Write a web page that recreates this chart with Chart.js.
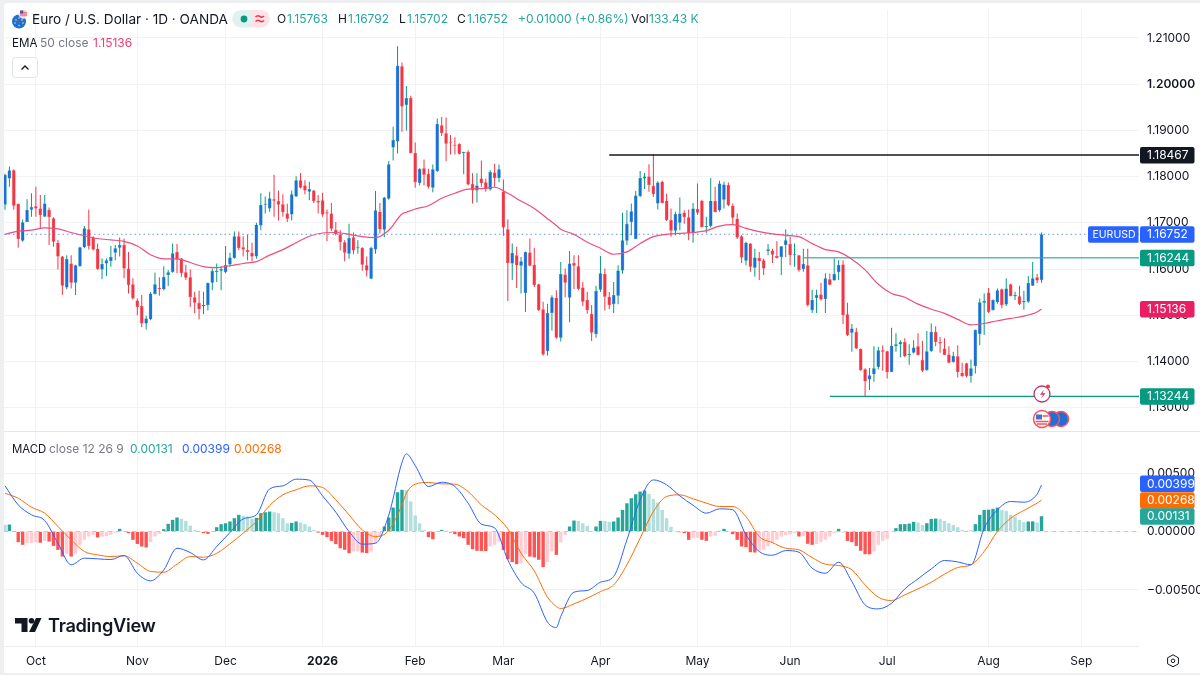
<!DOCTYPE html>
<html>
<head>
<meta charset="utf-8">
<title>EURUSD 1D</title>
<script src="https://cdn.jsdelivr.net/npm/chart.js@4/dist/chart.umd.min.js"></script>
<style>
  html, body { margin: 0; padding: 0; background: #eeeff1; }
  body { width: 1200px; height: 675px; overflow: hidden; position: relative; font-family: Inter, "Noto Sans", sans-serif; color: #131722; }
  #panel { position: absolute; left: 4px; top: 3px; right: 0; bottom: 2px; background: #fff; border-top-left-radius: 4px; }
  canvas { position: absolute; left: 0; }
  #priceChart { top: 0; }
  #macdChart { top: 432px; }
  #sep { position: absolute; left: 4px; right: 0; top: 431px; height: 1px; background: #e4e6ec; }
  #timeLine { position: absolute; left: 4px; width: 1135px; top: 646px; height: 1px; background: #eceef2; }
  .t { position: absolute; white-space: nowrap; line-height: 16px; font-size: 12px; }
  .grey { color: #787b86; }
  .up { color: #26a69a; }
  svg { position: absolute; overflow: visible; }
</style>
</head>
<body>
<div id="panel"></div>
<canvas id="priceChart" width="1200" height="432"></canvas>
<canvas id="macdChart" width="1200" height="243"></canvas>
<div id="sep"></div>
<div id="timeLine"></div>

<svg style="left:0;top:0" width="40" height="40">
  <circle cx="19" cy="21.5" r="7" fill="#1f6fd6"/>
  <circle cx="16" cy="20" r=".8" fill="#ffd84d"/><circle cx="19" cy="18" r=".8" fill="#ffd84d"/><circle cx="22" cy="20" r=".8" fill="#ffd84d"/>
  <circle cx="15" cy="23" r=".8" fill="#ffd84d"/><circle cx="19" cy="25.5" r=".8" fill="#ffd84d"/><circle cx="23" cy="23" r=".8" fill="#ffd84d"/>
  <circle cx="23.3" cy="13.8" r="4.4" fill="#f6c6cc" stroke="#fff"/>
  <path d="M20 12.8h7M20 15h7" stroke="#ef4f5e"/>
  <rect x="20" y="10.5" width="3.2" height="3" fill="#3d5db0"/>
</svg>
<div class="t" style="left:32px;top:11px;font-size:13.6px">Euro / U.S. Dollar · 1D · OANDA</div>
<svg style="left:0;top:0" width="280" height="30">
  <path d="M243 10h-2a8.8 8.8 0 0 0 0 17.6h10V10z" fill="#e0f2ef"/>
  <path d="M251 10h10a8.8 8.8 0 0 1 0 17.6h-10z" fill="#fde3e8"/>
  <circle cx="244" cy="19" r="3.4" fill="#089981"/>
  <path d="M255.5 17c1.5-1.6 3-1.6 4.3-.6s2.800 1 4.200-.4M255.500 21.500c1.500-1.600 3-1.600 4.300-.6s2.800 1 4.200-.4" fill="none" stroke="#f23645" stroke-width="1.500"/>
</svg>
<div class="t" style="left:277px;top:11px">O</div><div class="t up" style="left:287px;top:11px">1.15763</div>
<div class="t" style="left:338px;top:11px">H</div><div class="t up" style="left:348px;top:11px">1.16792</div>
<div class="t" style="left:399px;top:11px">L</div><div class="t up" style="left:407px;top:11px">1.15702</div>
<div class="t" style="left:457px;top:11px">C</div><div class="t up" style="left:467px;top:11px">1.16752</div>
<div class="t up" style="left:518px;top:11px">+0.01000 (+0.86%)</div>
<div class="t" style="left:631px;top:11px">Vol</div><div class="t up" style="left:649px;top:11px">133.43 K</div>

<div class="t" style="left:12px;top:35px;font-size:11.6px">EMA</div>
<div class="t grey" style="left:40px;top:35px">50 close</div>
<div class="t" style="left:93px;top:35px;color:#f23a6e">1.15136</div>
<svg style="left:0;top:0" width="50" height="90">
  <rect x="12.500" y="57.500" width="25" height="20" rx="3" fill="#fff" stroke="#e0e3eb"/>
  <path d="M21.500 69.500l3.500-3.500 3.500 3.500" fill="none" stroke="#131722" stroke-width="1.300"/>
</svg>

<div class="t" style="left:12px;top:441px;font-size:11.4px">MACD</div>
<div class="t grey" style="left:49px;top:441px">close 12 26 9</div>
<div class="t up" style="left:130px;top:441px">0.00131</div>
<div class="t" style="left:182px;top:441px;color:#2962ff">0.00399</div>
<div class="t" style="left:234px;top:441px;color:#ff6d00">0.00268</div>

<svg style="left:0;top:0" width="60" height="675">
  <path d="M15 618h12.500v14h-6v-8.500H15z" fill="#131722"/>
  <circle cx="31.500" cy="620.700" r="2.800" fill="#131722"/>
  <path d="M36 618h5.500l-6.500 14h-6z" fill="#131722"/>
</svg>
<div class="t" style="left:48px;top:613px;font-size:18.2px;line-height:25px;font-weight:600;letter-spacing:-.3px">TradingView</div>

<svg style="left:1030px;top:380px" width="45" height="50">
  <circle cx="12" cy="14" r="8" fill="#fff" stroke="#b5376f" stroke-width="1.300"/>
  <path d="M14 9.500l-4 5.200h3l-2 4 4.500-5.500h-3z" fill="#d9305f"/>
  <circle cx="18" cy="6.500" r="2" fill="#f23645"/>
  <circle cx="31" cy="39" r="7.500" fill="#1f6fd6" stroke="#f7525f" stroke-width="1.500"/>
  <circle cx="22" cy="39" r="7.500" fill="#1f6fd6" stroke="#f7525f" stroke-width="1.500"/>
  <circle cx="12" cy="39" r="8.500" fill="#fff" stroke="#f7525f" stroke-width="1.500"/>
  <rect x="6" y="34.500" width="6" height="5" fill="#4a6fc4"/>
  <path d="M12.500 36h6M5.500 41.500h13M7 44h10" stroke="#f7525f" stroke-width="1.300"/>
</svg>
<svg style="left:0;top:0" width="1200" height="675">
  <path d="M1173 654.800l5.400 3v6l-5.400 3-5.400-3v-6z" fill="none" stroke="#131722"/>
  <circle cx="1173" cy="660.800" r="1.800" fill="none" stroke="#131722"/>
</svg>

<script>
const barsOpen = [
  1.1739,1.1796,1.1814,1.1741,1.1661,1.1702,1.1728,1.1736,1.1731,1.1713,
  1.1728,1.1710,1.1657,1.1627,1.1560,1.1612,1.1570,1.1606,1.1647,1.1686,
  1.1668,1.1644,1.1599,1.1612,1.1617,1.1635,1.1646,1.1652,1.1601,1.1567,
  1.1532,1.1520,1.1482,1.1491,1.1546,1.1559,1.1556,1.1587,1.1593,1.1637,
  1.1623,1.1593,1.1582,1.1539,1.1527,1.1520,1.1522,1.1570,1.1593,1.1596,
  1.1593,1.1610,1.1624,1.1671,1.1647,1.1641,1.1635,1.1627,1.1694,1.1739,
  1.1731,1.1751,1.1747,1.1740,1.1720,1.1718,1.1757,1.1792,1.1781,1.1767,
  1.1770,1.1747,1.1749,1.1723,1.1720,1.1685,1.1675,1.1658,1.1633,1.1669,
  1.1645,1.1646,1.1608,1.1579,1.1642,1.1724,1.1685,1.1752,1.1863,1.1876,
  1.2039,1.1955,1.1970,1.1851,1.1786,1.1818,1.1806,1.1776,1.1812,1.1911,
  1.1894,1.1873,1.1869,1.1871,1.1851,1.1853,1.1784,1.1770,1.1796,1.1788,
  1.1772,1.1809,1.1797,1.1768,1.1686,1.1612,1.1630,1.1607,1.1548,1.1636,
  1.1609,1.1567,1.1513,1.1422,1.1505,1.1538,1.1451,1.1588,1.1538,1.1613,
  1.1606,1.1560,1.1533,1.1503,1.1459,1.1555,1.1589,1.1540,1.1524,1.1542,
  1.1597,1.1661,1.1702,1.1665,1.1758,1.1796,1.1800,1.1780,1.1742,1.1789,
  1.1748,1.1706,1.1683,1.1700,1.1722,1.1712,1.1678,1.1730,1.1748,1.1691,
  1.1693,1.1747,1.1727,1.1750,1.1782,1.1737,1.1709,1.1671,1.1618,1.1655,
  1.1603,1.1624,1.1619,1.1639,1.1640,1.1628,1.1626,1.1652,1.1654,1.1630,
  1.1630,1.1600,1.1608,1.1511,1.1537,1.1545,1.1535,1.1578,1.1575,1.1593,
  1.1610,1.1502,1.1462,1.1464,1.1427,1.1383,1.1361,1.1372,1.1388,1.1424,
  1.1422,1.1377,1.1433,1.1437,1.1442,1.1414,1.1419,1.1433,1.1403,1.1381,
  1.1422,1.1464,1.1442,1.1428,1.1415,1.1399,1.1411,1.1375,1.1396,1.1368,
  1.1390,1.1459,1.1527,1.1549,1.1511,1.1528,1.1556,1.1523,1.1567,1.1541,
  1.1541,1.1528,1.1529,1.1564,1.1582,1.15763
];
const barsHigh = [
  1.1806,1.1822,1.1816,1.1742,1.1707,1.1751,1.1764,1.1778,1.1760,1.1760,
  1.1733,1.1712,1.1663,1.1628,1.1630,1.1630,1.1609,1.1648,1.1693,1.1728,
  1.1671,1.1655,1.1623,1.1623,1.1650,1.1652,1.1668,1.1666,1.1637,1.1580,
  1.1536,1.1544,1.1499,1.1551,1.1592,1.1582,1.1606,1.1598,1.1655,1.1654,
  1.1624,1.1609,1.1599,1.1551,1.1553,1.1551,1.1570,1.1601,1.1612,1.1606,
  1.1650,1.1635,1.1681,1.1681,1.1671,1.1674,1.1657,1.1700,1.1764,1.1757,
  1.1767,1.1804,1.1770,1.1762,1.1741,1.1770,1.1801,1.1808,1.1792,1.1789,
  1.1771,1.1760,1.1765,1.1729,1.1743,1.1702,1.1684,1.1662,1.1698,1.1679,
  1.1662,1.1647,1.1627,1.1648,1.1769,1.1743,1.1756,1.1834,1.1908,1.2082,
  1.2047,1.1996,1.1975,1.1874,1.1818,1.1837,1.1817,1.1826,1.1926,1.1929,
  1.1928,1.1890,1.1885,1.1872,1.1854,1.1857,1.1807,1.1807,1.1835,1.1796,
  1.1814,1.1828,1.1826,1.1794,1.1707,1.1655,1.1648,1.1626,1.1638,1.1666,
  1.1646,1.1568,1.1529,1.1525,1.1543,1.1554,1.1615,1.1601,1.1639,1.1630,
  1.1630,1.1572,1.1551,1.1522,1.1564,1.1628,1.1601,1.1550,1.1572,1.1608,
  1.1722,1.1727,1.1742,1.1769,1.1812,1.1808,1.1827,1.1849,1.1790,1.1791,
  1.1763,1.1731,1.1724,1.1755,1.1727,1.1729,1.1743,1.1785,1.1750,1.1713,
  1.1797,1.1778,1.1791,1.1789,1.1787,1.1742,1.1720,1.1673,1.1659,1.1656,
  1.1644,1.1637,1.1623,1.1654,1.1644,1.1660,1.1650,1.1686,1.1670,1.1655,
  1.1631,1.1644,1.1644,1.1555,1.1555,1.1570,1.1591,1.1590,1.1623,1.1619,
  1.1619,1.1527,1.1481,1.1473,1.1428,1.1385,1.1386,1.1433,1.1432,1.1435,
  1.1423,1.1473,1.1461,1.1446,1.1450,1.1437,1.1446,1.1461,1.1445,1.1466,
  1.1482,1.1476,1.1453,1.1450,1.1433,1.1421,1.1435,1.1397,1.1397,1.1404,
  1.1469,1.1536,1.1547,1.1559,1.1534,1.1558,1.1558,1.1580,1.1568,1.1551,
  1.1564,1.1553,1.1585,1.1615,1.1589,1.16792
];
const barsLow = [
  1.1728,1.1778,1.1728,1.1646,1.1659,1.1702,1.1713,1.1713,1.1688,1.1713,
  1.1652,1.1648,1.1599,1.1544,1.1556,1.1558,1.1544,1.1605,1.1645,1.1642,
  1.1640,1.1598,1.1578,1.1585,1.1605,1.1619,1.1627,1.1580,1.1547,1.1534,
  1.1500,1.1474,1.1469,1.1489,1.1545,1.1542,1.1554,1.1563,1.1592,1.1591,
  1.1583,1.1576,1.1518,1.1504,1.1491,1.1502,1.1511,1.1554,1.1572,1.1554,
  1.1591,1.1605,1.1622,1.1641,1.1627,1.1619,1.1616,1.1622,1.1684,1.1720,
  1.1724,1.1713,1.1705,1.1713,1.1702,1.1705,1.1756,1.1774,1.1762,1.1749,
  1.1743,1.1720,1.1713,1.1660,1.1682,1.1673,1.1640,1.1617,1.1622,1.1632,
  1.1633,1.1596,1.1584,1.1578,1.1633,1.1677,1.1669,1.1750,1.1835,1.1850,
  1.1897,1.1900,1.1850,1.1776,1.1781,1.1781,1.1774,1.1766,1.1810,1.1888,
  1.1833,1.1848,1.1848,1.1848,1.1805,1.1781,1.1742,1.1744,1.1778,1.1767,
  1.1770,1.1778,1.1788,1.1672,1.1531,1.1576,1.1559,1.1547,1.1507,1.1606,
  1.1561,1.1509,1.1412,1.1413,1.1467,1.1449,1.1443,1.1539,1.1485,1.1557,
  1.1554,1.1520,1.1503,1.1444,1.1451,1.1550,1.1510,1.1513,1.1505,1.1524,
  1.1590,1.1652,1.1673,1.1665,1.1756,1.1773,1.1767,1.1756,1.1729,1.1742,
  1.1704,1.1670,1.1673,1.1684,1.1698,1.1662,1.1657,1.1717,1.1690,1.1678,
  1.1690,1.1723,1.1724,1.1731,1.1736,1.1695,1.1665,1.1613,1.1608,1.1594,
  1.1583,1.1576,1.1587,1.1630,1.1613,1.1623,1.1587,1.1626,1.1608,1.1605,
  1.1594,1.1594,1.1519,1.1505,1.1505,1.1532,1.1505,1.1565,1.1575,1.1576,
  1.1481,1.1455,1.1421,1.1427,1.1380,1.1325,1.1338,1.1356,1.1383,1.1380,
  1.1363,1.1377,1.1421,1.1409,1.1409,1.1393,1.1417,1.1413,1.1377,1.1380,
  1.1421,1.1433,1.1419,1.1414,1.1396,1.1397,1.1365,1.1367,1.1365,1.1354,
  1.1374,1.1435,1.1457,1.1505,1.1510,1.1525,1.1515,1.1520,1.1541,1.1533,
  1.1522,1.1512,1.1527,1.1563,1.1569,1.15702
];
const barsClose = [
  1.1804,1.1814,1.1737,1.1665,1.1701,1.1728,1.1734,1.1731,1.1717,1.1742,
  1.1712,1.1659,1.1627,1.1564,1.1622,1.1570,1.1608,1.1647,1.1688,1.1650,
  1.1642,1.1600,1.1611,1.1619,1.1626,1.1645,1.1652,1.1601,1.1565,1.1536,
  1.1518,1.1482,1.1493,1.1547,1.1567,1.1557,1.1583,1.1593,1.1634,1.1621,
  1.1591,1.1581,1.1539,1.1527,1.1513,1.1522,1.1570,1.1596,1.1596,1.1600,
  1.1609,1.1625,1.1671,1.1645,1.1642,1.1637,1.1627,1.1696,1.1739,1.1741,
  1.1753,1.1748,1.1739,1.1723,1.1709,1.1762,1.1792,1.1776,1.1770,1.1773,
  1.1747,1.1744,1.1718,1.1720,1.1687,1.1675,1.1658,1.1635,1.1667,1.1640,
  1.1647,1.1609,1.1597,1.1646,1.1727,1.1686,1.1755,1.1827,1.1879,1.2040,
  1.1952,1.1970,1.1851,1.1788,1.1817,1.1804,1.1778,1.1816,1.1914,1.1894,
  1.1871,1.1872,1.1867,1.1849,1.1853,1.1783,1.1770,1.1781,1.1786,1.1773,
  1.1810,1.1797,1.1816,1.1690,1.1613,1.1635,1.1608,1.1617,1.1637,1.1607,
  1.1565,1.1511,1.1415,1.1505,1.1539,1.1451,1.1589,1.1570,1.1612,1.1607,
  1.1557,1.1529,1.1511,1.1462,1.1553,1.1591,1.1540,1.1522,1.1544,1.1597,
  1.1662,1.1698,1.1725,1.1759,1.1797,1.1800,1.1782,1.1762,1.1787,1.1743,
  1.1706,1.1683,1.1719,1.1720,1.1712,1.1677,1.1731,1.1722,1.1691,1.1693,
  1.1748,1.1723,1.1785,1.1783,1.1738,1.1711,1.1668,1.1625,1.1657,1.1605,
  1.1625,1.1617,1.1601,1.1643,1.1631,1.1624,1.1649,1.1662,1.1630,1.1632,
  1.1598,1.1611,1.1522,1.1533,1.1544,1.1534,1.1580,1.1566,1.1589,1.1609,
  1.1500,1.1457,1.1471,1.1428,1.1381,1.1357,1.1370,1.1385,1.1424,1.1421,
  1.1377,1.1434,1.1437,1.1442,1.1411,1.1416,1.1430,1.1414,1.1380,1.1422,
  1.1464,1.1442,1.1439,1.1414,1.1397,1.1412,1.1377,1.1368,1.1368,1.1385,
  1.1468,1.1528,1.1531,1.1507,1.1533,1.1554,1.1522,1.1558,1.1541,1.1544,
  1.1524,1.1531,1.1570,1.1580,1.1575,1.16752
];

const lineBars = [
  0,3,6,9,12,15,18,21,24,27,
  30,33,36,39,42,45,48,51,54,57,
  60,63,66,69,72,75,78,81,84,87,
  90,91,93,96,99,102,105,108,111,114,117,
  120,123,125,126,129,132,135,138,141,144,147,
  150,153,156,159,162,165,168,171,174,177,
  180,183,186,189,192,195,198,201,204,207,
  210,213,216,219,222,225,228,231,234,235
];
const ema50 = [
  1.1675,1.1682,1.1684,1.1689,1.1687,1.1679,1.1672,1.1666,1.1663,1.1660,
  1.1650,1.1631,1.1622,1.1622,1.1614,1.1605,1.1603,1.1607,1.1612,1.1616,
  1.1630,1.1642,1.1657,1.1671,1.1678,1.1679,1.1675,1.1670,1.1668,1.1684,
  1.1719,1.1723,1.1730,1.1737,1.1753,1.1764,1.1773,1.1774,1.1777,1.1764,1.1747,
  1.1731,1.1709,1.1694,1.1686,1.1675,1.1658,1.1645,1.1632,1.1637,1.1655,1.1670,
  1.1675,1.1677,1.1679,1.1683,1.1693,1.1696,1.1688,1.1681,1.1676,1.1673,
  1.1670,1.1655,1.1642,1.1637,1.1621,1.1598,1.1567,1.1547,1.1539,1.1524,
  1.1513,1.1504,1.1491,1.1479,1.1482,1.1488,1.1493,1.1498,1.1507,1.15136
];
const macdLine = [
  .00391,.00228,.00143,.00094,-.00100,-.00285,-.00228,-.00234,-.00240,-.00205,
  -.00357,-.00422,-.00328,-.00143,-.00180,-.00243,-.00128,-.00009,.00108,.00143,
  .00365,.00391,.00448,.00440,.00305,.00166,0,-.00108,-.00100,.00140,
  .00591,.00665,.00565,.00385,.00422,.00385,.00243,.00063,.00031,-.00243,-.00437,
  -.00528,-.00776,-.00822,-.00728,-.00519,-.00505,-.00434,-.00385,-.00071,.00271,.00442,
  .00400,.00305,.00225,.00157,.00194,.00186,-.00029,-.00171,-.00203,-.00163,
  -.00177,-.00314,-.00357,-.00263,-.00428,-.00628,-.00662,-.00614,-.00491,-.00405,
  -.00320,-.00248,-.00260,-.00285,.00029,.00186,.00257,.00251,.00320,.00399
];
const signalLine = [
  .00328,.00285,.00208,.00157,.00043,-.00071,-.00171,-.00200,-.00214,-.00208,
  -.00271,-.00342,-.00348,-.00280,-.00214,-.00220,-.00186,-.00106,-.00014,.00086,
  .00223,.00314,.00357,.00391,.00377,.00271,.00143,.00014,-.00043,.00009,
  .00228,.00328,.00405,.00420,.00408,.00405,.00342,.00228,.00143,.00023,-.00186,
  -.00337,-.00562,-.00642,-.00659,-.00619,-.00571,-.00514,-.00457,-.00285,-.00057,.00171,
  .00300,.00314,.00280,.00243,.00214,.00214,.00128,-.00043,-.00095,-.00143,
  -.00157,-.00223,-.00280,-.00291,-.00328,-.00457,-.00562,-.00591,-.00542,-.00491,
  -.00434,-.00365,-.00308,-.00285,-.00171,0,.00114,.00180,.00243,.00268
];
const histogram = [
  .00057,.00060,-.00003,-.00091,-.00114,-.00100,-.00097,-.00094,-.00096,-.00080,
  -.00086,-.00123,-.00157,-.00214,-.00191,-.00214,-.00191,-.00114,-.00071,-.00043,
  -.00029,-.00051,-.00043,-.00040,-.00029,-.00011,.00023,.00003,-.00014,-.00071,
  -.00106,-.00128,-.00137,-.00091,-.00043,-.00020,.00020,.00066,.00100,.00120,
  .00108,.00091,.00051,.00014,.00003,-.00014,-.00020,.00005,.00037,.00063,
  .00071,.00086,.00114,.00143,.00134,.00128,.00110,.00117,.00157,.00165,
  .00171,.00165,.00157,.00114,.00071,.00074,.00086,.00077,.00063,.00043,
  .00014,-.00009,-.00029,-.00048,-.00080,-.00108,-.00143,-.00157,-.00185,-.00171,
  -.00170,-.00180,-.00185,-.00171,-.00100,-.00043,.00043,.00120,.00205,.00336,
  .00357,.00354,.00257,.00137,.00071,.00014,-.00048,-.00066,-.00002,.00014,
  .00001,-.00009,-.00023,-.00043,-.00057,-.00114,-.00151,-.00165,-.00166,-.00167,
  -.00128,-.00114,-.00086,-.00157,-.00237,-.00262,-.00279,-.00271,-.00194,-.00214,
  -.00222,-.00242,-.00305,-.00262,-.00171,-.00200,-.00094,-.00029,.00043,.00094,
  .00091,.00071,.00048,.00006,.00043,.00091,.00090,.00083,.00086,.00120,
  .00185,.00242,.00285,.00319,.00342,.00351,.00322,.00279,.00248,.00185,
  .00114,.00040,.00006,-.00006,-.00014,-.00071,-.00057,-.00054,-.00071,-.00080,
  -.00043,-.00037,.00006,.00023,.00001,-.00023,-.00071,-.00128,-.00134,-.00177,
  -.00180,-.00165,-.00157,-.00128,-.00100,-.00071,-.00043,-.00029,-.00026,-.00014,
  -.00043,-.00040,-.00105,-.00114,-.00108,-.00091,-.00071,-.00043,-.00014,.00023,
  -.00006,-.00080,-.00091,-.00123,-.00165,-.00194,-.00195,-.00171,-.00114,-.00080,
  -.00063,-.00006,.00029,.00063,.00064,.00068,.00083,.00077,.00057,.00071,
  .00108,.00111,.00108,.00091,.00071,.00057,.00037,.00014,.00006,.00007,
  .00063,.00143,.00185,.00187,.00194,.00205,.00185,.00177,.00143,.00128,
  .00100,.00080,.00086,.00087,.00077,.00131
];

const monthBars = [7, 30, 50, 72, 93, 113, 135, 157, 178, 200, 223, 244];
const monthLabels = ["Oct", "Nov", "Dec", "2026", "Feb", "Mar", "Apr", "May", "Jun", "Jul", "Aug", "Sep"];
const priceTicks = [1.21, 1.20, 1.19, 1.18, 1.17, 1.16, 1.15, 1.14, 1.13];
const macdTicks = [0.005, 0, -0.005];

const lastPrice = 1.16752;
const emaLast = 1.15136;
const highLevel = 1.18467, highLevelStart = 137;
const midLevel = 1.16244, midLevelStart = 181;
const lowLevel = 1.13244, lowLevelStart = 187;
const macdLast = 0.00399, signalLast = 0.00268, histLast = 0.00131;

const COLORS = {
  upBody: "#1b6fdc", upWick: "#089981", downBody: "#f23645", downWick: "#f23645",
  ema: "#ec4f7c", black: "#131722", teal: "#089981", tealSoft: "rgba(34,171,148,.75)",
  blue: "#2962ff", blueSoft: "rgba(41,98,255,.7)", orange: "#ff6d00", pink: "#e91e63",
  histUp: "#26a69a", histUpSoft: "#b2dfdb", histDown: "#ff5252", histDownSoft: "#ffcdd2",
  grid: "#f1f2f5", tick: "#131722", zero: "#c6c8ce",
};

Chart.defaults.font.family = "Inter, 'Noto Sans', sans-serif";
Chart.defaults.font.size = 12;
Chart.defaults.color = COLORS.tick;

const X_MIN = -0.227, X_MAX = 257.1;
const isUp = (i) => barsClose[i] >= barsOpen[i];
const level = (value, from) => [{ x: from, y: value }, { x: X_MAX, y: value }];
const lineData = (values) => lineBars.map((x, k) => ({ x, y: values[k] }));

function noPadding(s) {
  s.paddingTop = s.paddingBottom = s.paddingLeft = s.paddingRight = 0;
}

function xScale(showLabels) {
  return {
    type: "linear", offset: false, min: X_MIN, max: X_MAX,
    afterBuildTicks: (s) => { s.ticks = monthBars.map((value) => ({ value })); },
    afterFit: (s) => { s.height = showLabels ? 29 : 0; noPadding(s); },
    border: { display: false },
    grid: { color: COLORS.grid, drawTicks: false, offset: false },
    ticks: {
      display: showLabels, autoSkip: false, maxRotation: 0, padding: 8,
      callback: (v) => monthLabels[monthBars.indexOf(v)],
      font: (ctx) => ({ size: 12, weight: ctx.tick && ctx.tick.label === "2026" ? "bold" : "normal" }),
    },
  };
}

function yScale(min, max, tickValues, fmt) {
  return {
    position: "right", min, max,
    afterBuildTicks: (s) => { s.ticks = tickValues.map((value) => ({ value })); },
    afterFit: (s) => { s.width = 61; noPadding(s); },
    border: { display: false },
    grid: { color: COLORS.grid, drawTicks: false },
    ticks: {
      padding: 8, callback: fmt,
      font: (ctx) => ({ size: 12, weight: ctx.tick && ctx.tick.value === 1.2 ? "600" : "normal" }),
    },
  };
}

function drawTag(chart, y, text, color) {
  const c = chart.ctx;
  c.fillStyle = color;
  c.beginPath();
  c.roundRect(1140, y - 8, 54.5, 16.5, 2);
  c.fill();
  c.fillStyle = "#fff";
  c.font = "12px Inter, 'Noto Sans', sans-serif";
  c.textAlign = "left";
  c.textBaseline = "middle";
  c.fillText(text, 1147, y + 0.5);
}

const priceTags = {
  id: "priceTags",
  afterDraw(chart) {
    const s = chart.scales.y, c = chart.ctx;
    c.save();
    drawTag(chart, s.getPixelForValue(highLevel), highLevel.toFixed(5), COLORS.black);
    drawTag(chart, s.getPixelForValue(midLevel), midLevel.toFixed(5), COLORS.teal);
    drawTag(chart, s.getPixelForValue(emaLast), emaLast.toFixed(5), COLORS.pink);
    drawTag(chart, s.getPixelForValue(lowLevel), lowLevel.toFixed(5), COLORS.teal);
    const y = s.getPixelForValue(lastPrice);
    drawTag(chart, y, lastPrice.toFixed(5), COLORS.blue);
    c.fillStyle = COLORS.blue;
    c.beginPath();
    c.roundRect(1088, y - 8, 50.5, 16.5, [2, 0, 0, 2]);
    c.fill();
    c.fillStyle = "#fff";
    c.font = "10.5px Inter, 'Noto Sans', sans-serif";
    c.fillText("EURUSD", 1092.5, y + 0.5);
    c.restore();
  },
};

const macdTags = {
  id: "macdTags",
  afterDraw(chart) {
    const s = chart.scales.y, c = chart.ctx;
    c.save();
    const sigY = s.getPixelForValue(signalLast);
    drawTag(chart, Math.min(s.getPixelForValue(macdLast), sigY - 16.6), macdLast.toFixed(5), COLORS.blue);
    drawTag(chart, sigY, signalLast.toFixed(5), COLORS.orange);
    drawTag(chart, s.getPixelForValue(histLast), histLast.toFixed(5), COLORS.histUp);
    c.restore();
  },
};

new Chart(document.getElementById("priceChart").getContext("2d"), {
  type: "bar",
  data: {
    datasets: [
      { type: "line", data: level(highLevel, highLevelStart), borderColor: COLORS.black, borderWidth: 1.5, pointRadius: 0, order: 0 },
      { type: "line", data: level(midLevel, midLevelStart), borderColor: COLORS.tealSoft, borderWidth: 1.5, pointRadius: 0, order: 0 },
      { type: "line", data: level(lowLevel, lowLevelStart), borderColor: COLORS.teal, borderWidth: 1.2, pointRadius: 0, order: 0 },
      { type: "line", data: lineData(ema50), borderColor: COLORS.ema, borderWidth: 1.2, pointRadius: 0, cubicInterpolationMode: "monotone", order: 1 },
      {
        data: barsOpen.map((o, i) => ({ x: i, y: [o, barsClose[i]] })),
        grouped: false, barThickness: 3.6, minBarLength: 1, inflateAmount: 0,
        backgroundColor: barsOpen.map((_, i) => (isUp(i) ? COLORS.upBody : COLORS.downBody)),
        borderColor: barsOpen.map((_, i) => (isUp(i) ? COLORS.upWick : COLORS.downBody)),
        borderWidth: 0.4, borderSkipped: false, order: 2,
      },
      {
        data: barsLow.map((l, i) => ({ x: i, y: [l, barsHigh[i]] })),
        grouped: false, barThickness: 1, inflateAmount: 0,
        backgroundColor: barsOpen.map((_, i) => (isUp(i) ? COLORS.upWick : COLORS.downWick)),
        borderWidth: 0, order: 3,
      },
      { type: "line", data: level(lastPrice, X_MIN), borderColor: COLORS.blueSoft, borderWidth: 1, borderDash: [1.5, 3], pointRadius: 0, order: 4 },
    ],
  },
  options: {
    responsive: false, animation: false, events: [],
    layout: { autoPadding: false, padding: { left: 4, top: 10, right: 0, bottom: 1 } },
    plugins: { legend: { display: false }, tooltip: { enabled: false } },
    scales: {
      x: xScale(false),
      y: yScale(1.12494, 1.21606, priceTicks, (v) => v.toFixed(5)),
    },
  },
  plugins: [priceTags],
});

new Chart(document.getElementById("macdChart").getContext("2d"), {
  type: "bar",
  data: {
    datasets: [
      { type: "line", data: lineData(macdLine), borderColor: COLORS.blue, borderWidth: 1, pointRadius: 0, cubicInterpolationMode: "monotone", order: 0 },
      { type: "line", data: lineData(signalLine), borderColor: COLORS.orange, borderWidth: 1, pointRadius: 0, cubicInterpolationMode: "monotone", order: 0 },
      {
        data: histogram.map((y, i) => ({ x: i, y })),
        grouped: false, barThickness: 3.4, inflateAmount: 0, order: 1,
        backgroundColor: histogram.map((h, i) => {
          const prev = i ? histogram[i - 1] : h;
          if (h >= 0) return h > prev ? COLORS.histUp : COLORS.histUpSoft;
          return h < prev ? COLORS.histDown : COLORS.histDownSoft;
        }),
      },
      { type: "line", data: level(0, X_MIN), borderColor: COLORS.zero, borderWidth: 1, borderDash: [4, 4], pointRadius: 0, order: 2 },
    ],
  },
  options: {
    responsive: false, animation: false, events: [],
    layout: { autoPadding: false, padding: { left: 4, top: 0, right: 0, bottom: 0 } },
    plugins: { legend: { display: false }, tooltip: { enabled: false } },
    scales: {
      x: xScale(true),
      y: yScale(-0.0098, 0.00852, macdTicks, (v) => (v < 0 ? "\u2212" : "") + Math.abs(v).toFixed(5)),
    },
  },
  plugins: [macdTags],
});
</script>
</body>
</html>
